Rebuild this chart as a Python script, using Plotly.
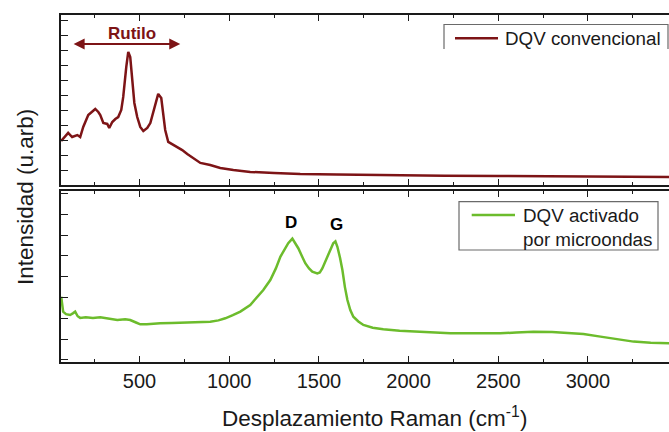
import plotly.graph_objects as go

# Raman spectra: conventional CVD diamond (top) and microwave-activated CVD (bottom)
shift_conv = [63, 102, 124, 153, 169, 186, 214, 236, 253, 270, 281, 298, 320, 331,
              348, 365, 381, 398, 409, 426, 437, 448, 459, 471, 487, 504, 521, 543,
              560, 576, 593, 604, 621, 632, 643, 660, 682, 710, 738, 766, 799, 839,
              894, 950, 1023, 1117, 1250, 1396, 1600, 1800, 1953, 2200, 2511, 2800,
              3100, 3453]
int_conv = [2.93, 3.47, 3.2, 3.33, 3.2, 3.87, 4.67, 4.87, 5.07, 4.87, 4.67, 4.13, 4.07,
            3.8, 4.2, 4.4, 4.53, 5.0, 5.87, 7.87, 8.87, 8.53, 7.0, 5.47, 4.53, 3.87,
            3.6, 3.8, 4.13, 4.8, 5.67, 6.07, 5.8, 4.8, 3.67, 2.87, 2.73, 2.53, 2.33,
            2.07, 1.8, 1.47, 1.33, 1.13, 1.0, 0.87, 0.8, 0.73, 0.7, 0.66, 0.63, 0.62,
            0.6, 0.57, 0.55, 0.53]

shift_mw = [63, 68, 74, 90, 113, 130, 141, 155, 169, 200, 240, 281, 330, 376, 420, 448,
            480, 504, 540, 580, 615, 680, 744, 820, 894, 940, 978, 1020, 1062, 1117,
            1150, 1190, 1229, 1260, 1285, 1310, 1329, 1352, 1370, 1385, 1405, 1424,
            1445, 1463, 1491, 1505, 1519, 1547, 1565, 1580, 1592, 1603, 1618, 1631,
            1645, 1659, 1675, 1692, 1720, 1748, 1800, 1859, 1950, 2049, 2150, 2233,
            2350, 2511, 2600, 2696, 2800, 2885, 2975, 3070, 3165, 3254, 3350, 3453]
int_mw = [3.14, 2.7, 2.42, 2.3, 2.26, 2.35, 2.42, 2.2, 2.12, 2.15, 2.12, 2.15, 2.08,
          2.02, 2.05, 2.02, 1.9, 1.81, 1.82, 1.85, 1.86, 1.88, 1.89, 1.92, 1.94, 2.0,
          2.1, 2.25, 2.42, 2.74, 3.05, 3.46, 3.94, 4.5, 5.06, 5.45, 5.71, 5.93, 5.7,
          5.47, 5.1, 4.75, 4.5, 4.34, 4.26, 4.3, 4.5, 5.06, 5.5, 5.71, 5.8, 5.54, 5.0,
          4.42, 3.6, 2.98, 2.5, 2.18, 1.95, 1.78, 1.65, 1.57, 1.5, 1.46, 1.42, 1.38,
          1.38, 1.38, 1.42, 1.46, 1.44, 1.41, 1.35, 1.22, 1.09, 0.98, 0.93, 0.9]

name_conv = "DQV convencional"
name_mw = "DQV activado<br>por microondas"
x_ticks = [500, 1000, 1500, 2000, 2500, 3000]
x_minor = [250, 750, 1250, 1750, 2250, 2750, 3250]

RED = "#7d1416"
GREEN = "#6cbc2c"
AXIS = "#1a1a1a"
FONT = "Liberation Sans, Arial, sans-serif"

W, H = 669, 432
L, R, T, B = 61, 0, 15, 70
PW, PH = W - L - R, H - T - B


def px_x(px):
    return (px - L) / PW


def px_y(py):
    return (H - B - py) / PH


fig = go.Figure()
fig.add_trace(go.Scatter(x=shift_conv, y=int_conv, mode="lines", name=name_conv,
                         line=dict(color=RED, width=2.5), xaxis="x2", yaxis="y2",
                         showlegend=False))
fig.add_trace(go.Scatter(x=shift_mw, y=int_mw, mode="lines", name=name_mw,
                         line=dict(color=GREEN, width=2.5), xaxis="x", yaxis="y",
                         showlegend=False))

x_range = [62, 3452]
common_x = dict(range=x_range, showline=True, linecolor=AXIS, linewidth=1.6,
                mirror="allticks", ticks="inside", ticklen=6, tickwidth=1.3,
                tickcolor=AXIS, tickmode="array", tickvals=x_ticks,
                minor=dict(ticks="inside", ticklen=3, tickwidth=1.3, tickcolor=AXIS,
                           tickmode="array", tickvals=x_minor, showgrid=False),
                showgrid=False, zeroline=False, automargin=False)
common_y = dict(showline=True, linecolor=AXIS, linewidth=1.6, mirror=False,
                ticks="inside", ticklen=7, tickwidth=1.3, tickcolor=AXIS,
                showticklabels=False, showgrid=False, zeroline=False, dtick=1,
                tickmode="linear", automargin=False)

bot_top = 191
top_bot = 185

fig.update_layout(
    template="none",
    width=W, height=H,
    margin=dict(l=L, r=R, t=T, b=B, pad=0, autoexpand=False),
    paper_bgcolor="white", plot_bgcolor="white",
    font=dict(family=FONT, color=AXIS),
    xaxis=dict(**common_x, anchor="y", domain=[0, 1], showticklabels=True,
               ticktext=[str(v) for v in x_ticks], ticklabelposition="outside",
               tickfont=dict(size=20, color=AXIS, family=FONT)),
    yaxis=dict(**common_y, anchor="x", domain=[0, px_y(bot_top)],
               range=[0, (H - B - bot_top) / 20.8], tick0=0.1),
    xaxis2=dict(**common_x, anchor="y2", domain=[0, 1], matches="x",
                showticklabels=False),
    yaxis2=dict(**common_y, anchor="x2", domain=[px_y(top_bot), 1],
                range=[0, (top_bot - T) / 15.0], tick0=0),
)

# Axis titles
fig.add_annotation(text="Desplazamiento Raman (cm<sup>-1</sup>)", xref="paper",
                   yref="paper", x=px_x(374.5), y=px_y(417), showarrow=False,
                   xanchor="center", yanchor="middle",
                   font=dict(size=22.5, family=FONT, color=AXIS))
fig.add_annotation(text="Intensidad (u.arb)", xref="paper", yref="paper",
                   x=px_x(25), y=px_y(197), showarrow=False, textangle=-90,
                   xanchor="center", yanchor="middle",
                   font=dict(size=22.5, family=FONT, color=AXIS))

# Rutile band marker
fig.add_annotation(x=727, y=9.4, ax=124, ay=9.4, xref="x2", yref="y2",
                   axref="x2", ayref="y2", text="", showarrow=True,
                   arrowhead=2, arrowside="end+start", arrowsize=1.1,
                   arrowwidth=2, arrowcolor=RED)
fig.add_annotation(x=459, y=10.07, xref="x2", yref="y2", text="<b>Rutilo</b>",
                   showarrow=False, font=dict(size=17, family=FONT, color=RED))

# D and G band labels
fig.add_annotation(x=1346, y=6.70, xref="x", yref="y", text="<b>D</b>",
                   showarrow=False, font=dict(size=17, family=FONT, color="black"))
fig.add_annotation(x=1598, y=6.62, xref="x", yref="y", text="<b>G</b>",
                   showarrow=False, font=dict(size=17, family=FONT, color="black"))

# Legend boxes
BOX = "#6a6a6a"
# top legend: open at the bottom
x0, x1, y0, y1 = px_x(444), px_x(668), px_y(49), px_y(24.5)
fig.add_shape(type="rect", xref="paper", yref="paper", x0=x0, x1=x1, y0=y0, y1=y1,
              line=dict(width=0), fillcolor="white", layer="above")
fig.add_shape(type="path", xref="paper", yref="paper",
              path=f"M {x0} {y0} L {x0} {y1} L {x1} {y1} L {x1} {y0}",
              line=dict(color=BOX, width=1.2), layer="above")
fig.add_shape(type="line", xref="paper", yref="paper", x0=px_x(455), x1=px_x(498),
              y0=px_y(38.3), y1=px_y(38.3), line=dict(color=RED, width=2.5))
fig.add_annotation(text=name_conv, xref="paper", yref="paper", x=px_x(503),
                   y=px_y(38.5), xanchor="left", yanchor="middle", showarrow=False,
                   font=dict(size=18.8, family=FONT, color=AXIS))

fig.add_shape(type="rect", xref="paper", yref="paper", x0=px_x(459), x1=px_x(658),
              y0=px_y(250), y1=px_y(201.7), line=dict(color=BOX, width=1.2),
              fillcolor="white", layer="above")
fig.add_shape(type="line", xref="paper", yref="paper", x0=px_x(471.7), x1=px_x(515),
              y0=px_y(215), y1=px_y(215), line=dict(color=GREEN, width=2.5))
fig.add_annotation(text=name_mw, xref="paper", yref="paper", x=px_x(520.7),
                   y=px_y(227), xanchor="left", yanchor="middle", showarrow=False,
                   align="left", font=dict(size=18.8, family=FONT, color=AXIS))

fig.write_html("out.html")
